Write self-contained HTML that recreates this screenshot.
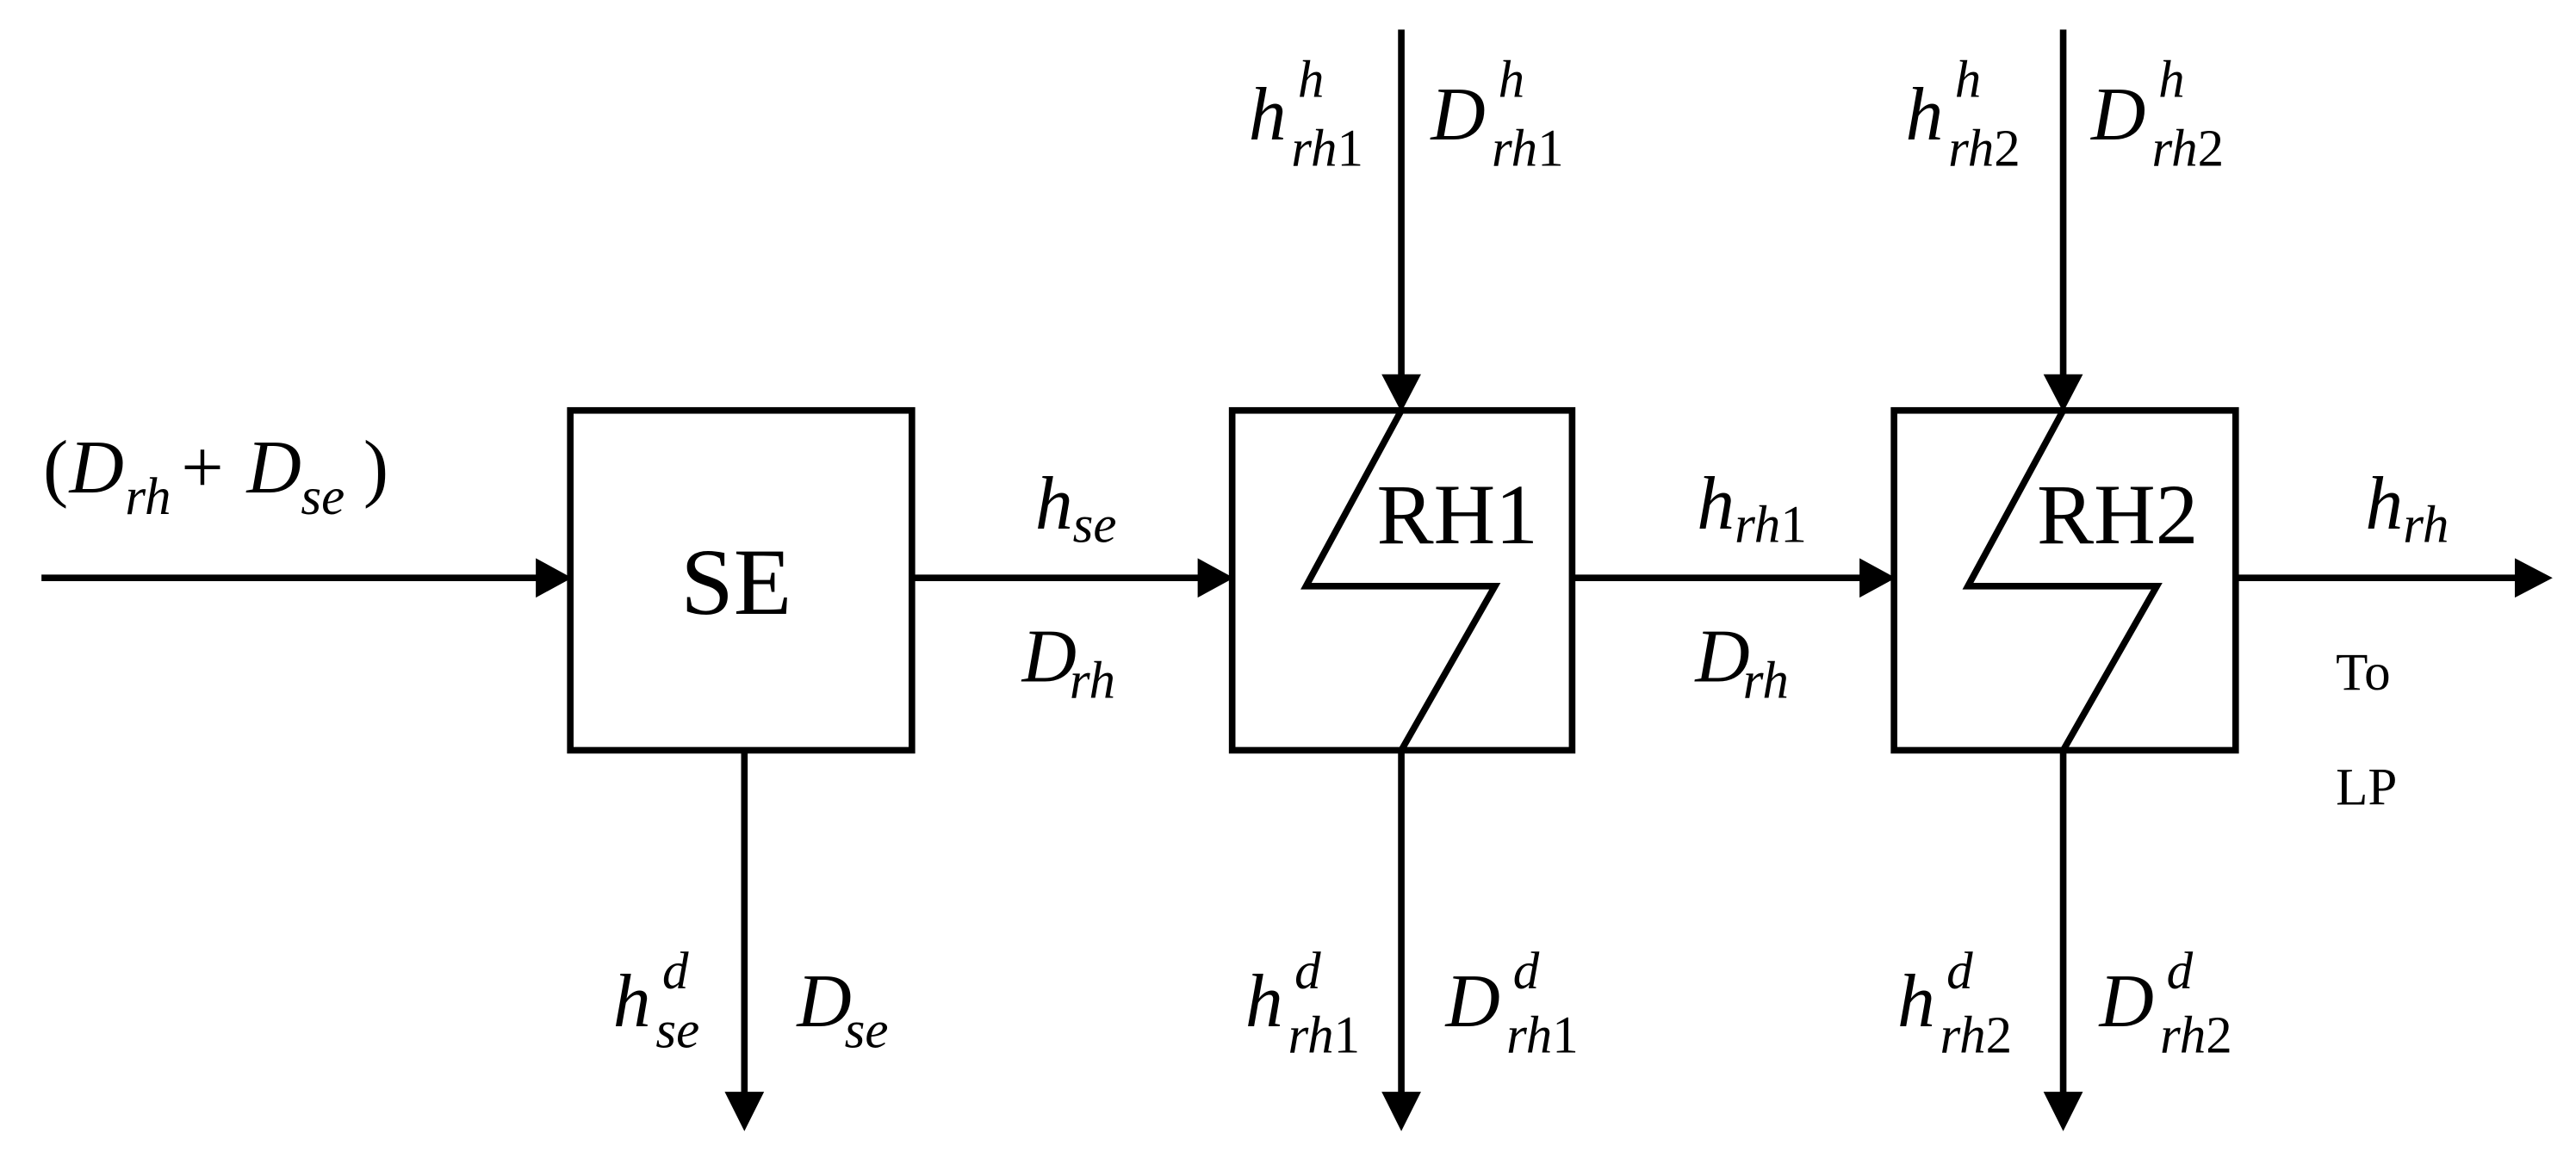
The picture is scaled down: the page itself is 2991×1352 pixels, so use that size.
<!DOCTYPE html>
<html><head><meta charset="utf-8"><style>
html,body{margin:0;padding:0;background:#fff}
svg{display:block}
svg text{font-family:"Liberation Serif","Times New Roman",Times,serif;fill:#000}
.i{font-style:italic}
.m{font-size:46px}
.s{font-size:32px}
.n{font-style:normal}
</style></head><body>
<svg width="2991" height="1352" viewBox="0 0 1568 709" xmlns="http://www.w3.org/2000/svg" font-family="Liberation Serif, Times New Roman, serif">
<rect width="1568" height="709" fill="#fff"/>
<g stroke="#000" stroke-width="4" fill="none">
<rect x="347" y="250" width="208" height="207"/>
<rect x="750" y="250" width="207" height="207"/>
<rect x="1153" y="250" width="208" height="207"/>
<polyline points="853,250 795,357 910,357 853,457"/>
<polyline points="1256,250 1198,357 1313,357 1256,457"/>
<line x1="25" y1="352" x2="330" y2="352"/>
<line x1="555" y1="352" x2="732" y2="352"/>
<line x1="957" y1="352" x2="1135" y2="352"/>
<line x1="1361" y1="352" x2="1535" y2="352"/>
<line x1="453" y1="457" x2="453" y2="668"/>
<line x1="853" y1="18" x2="853" y2="230"/>
<line x1="853" y1="457" x2="853" y2="668"/>
<line x1="1256" y1="18" x2="1256" y2="230"/>
<line x1="1256" y1="457" x2="1256" y2="668"/>
</g>
<g fill="#000">
<polygon points="326,340 348,352 326,364"/>
<polygon points="729,340 751,352 729,364"/>
<polygon points="1132,340 1154,352 1132,364"/>
<polygon points="1531,340 1554,352 1531,364"/>
<polygon points="841,228 865,228 853,251"/>
<polygon points="1244,228 1268,228 1256,251"/>
<polygon points="441,665 465,665 453,689"/>
<polygon points="841,665 865,665 853,689"/>
<polygon points="1244,665 1268,665 1256,689"/>
</g>
<text x="448" y="374" font-size="58" text-anchor="middle">SE</text>
<text x="838" y="331" font-size="52">RH1</text>
<text x="1240" y="331" font-size="52">RH2</text>
<text x="1422" y="420" font-size="32">To</text>
<text x="1422" y="490" font-size="32">LP</text>
<text x="26" y="300" class="m">(</text>
<text x="42" y="300" class="m i">D</text><text x="76" y="313" class="s i">rh</text>
<text x="110" y="300" class="m">+</text>
<text x="150" y="300" class="m i">D</text><text x="183" y="313" class="s i">se</text>
<text x="221" y="300" class="m">)</text>
<text x="630" y="322" class="m i">h</text><text x="653" y="330" class="s i">se</text>
<text x="622" y="415" class="m i">D</text><text x="651" y="425" class="s i">rh</text>
<text x="1033" y="322" class="m i">h</text><text x="1056" y="330" class="s i">rh<tspan class="n">1</tspan></text>
<text x="1032" y="415" class="m i">D</text><text x="1061" y="425" class="s i">rh</text>
<text x="1440" y="322" class="m i">h</text><text x="1463" y="330" class="s i">rh</text>
<text x="760" y="85" class="m i">h</text><text x="790" y="59" class="s i">h</text><text x="786" y="101" class="s i">rh<tspan class="n">1</tspan></text>
<text x="871" y="85" class="m i">D</text><text x="912" y="59" class="s i">h</text><text x="908" y="101" class="s i">rh<tspan class="n">1</tspan></text>
<text x="1160" y="85" class="m i">h</text><text x="1190" y="59" class="s i">h</text><text x="1186" y="101" class="s i">rh<tspan class="n">2</tspan></text>
<text x="1273" y="85" class="m i">D</text><text x="1314" y="59" class="s i">h</text><text x="1310" y="101" class="s i">rh<tspan class="n">2</tspan></text>
<text x="373" y="625" class="m i">h</text><text x="403" y="602" class="s i">d</text><text x="399" y="638" class="s i">se</text>
<text x="485" y="625" class="m i">D</text><text x="514" y="638" class="s i">se</text>
<text x="758" y="625" class="m i">h</text><text x="788" y="602" class="s i">d</text><text x="784" y="641" class="s i">rh<tspan class="n">1</tspan></text>
<text x="880" y="625" class="m i">D</text><text x="921" y="602" class="s i">d</text><text x="917" y="641" class="s i">rh<tspan class="n">1</tspan></text>
<text x="1155" y="625" class="m i">h</text><text x="1185" y="602" class="s i">d</text><text x="1181" y="641" class="s i">rh<tspan class="n">2</tspan></text>
<text x="1278" y="625" class="m i">D</text><text x="1319" y="602" class="s i">d</text><text x="1315" y="641" class="s i">rh<tspan class="n">2</tspan></text>
</svg>
</body></html>
